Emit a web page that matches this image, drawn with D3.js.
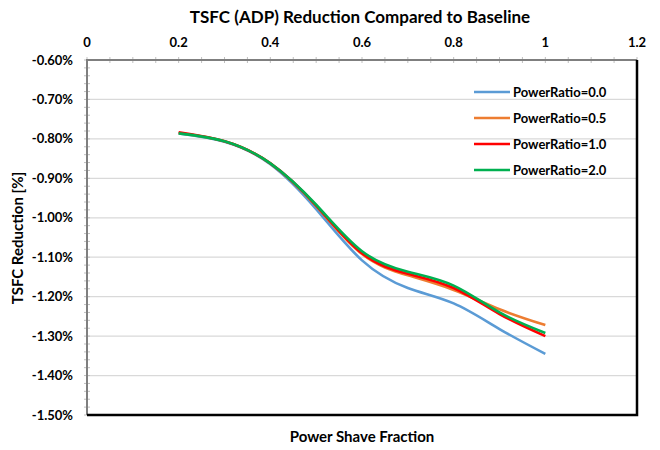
<!DOCTYPE html>
<html>
<head>
<meta charset="utf-8">
<script src="https://cdn.jsdelivr.net/npm/d3@7"></script>
<style>
  body { margin: 0; background: #fff; }
  svg text { font-family: Lato, "Open Sans", sans-serif; font-weight: bold; fill: #000; }
</style>
</head>
<body>
<svg id="chart" width="660" height="450"></svg>
<script>
// power shave fraction (x) and TSFC reduction in % (y)
const shave = [0.2, 0.3, 0.4, 0.5, 0.6, 0.7, 0.8, 0.9, 1.0]
const ratio00 = [-0.786, -0.807, -0.864, -0.978, -1.108, -1.178, -1.217, -1.282, -1.345]
const ratio05 = [-0.785, -0.806, -0.862, -0.970, -1.092, -1.146, -1.183, -1.232, -1.272]
const ratio10 = [-0.783, -0.806, -0.862, -0.969, -1.090, -1.142, -1.178, -1.244, -1.300]
const ratio20 = [-0.786, -0.806, -0.862, -0.967, -1.085, -1.137, -1.172, -1.240, -1.292]

const seriesNames = ["PowerRatio=0.0", "PowerRatio=0.5", "PowerRatio=1.0", "PowerRatio=2.0"]
const seriesColours = ["#5b9bd5", "#ed7d31", "#ff0000", "#00b050"]
const xTicks = [0, 0.2, 0.4, 0.6, 0.8, 1, 1.2]
const yTicks = [-0.6, -0.7, -0.8, -0.9, -1.0, -1.1, -1.2, -1.3, -1.4, -1.5]

const margin = { left: 87, top: 60, right: 637, bottom: 415 }

const x = d3.scaleLinear().domain([0, 1.2]).range([margin.left, margin.right])
const y = d3.scaleLinear().domain([-0.6, -1.5]).range([margin.top, margin.bottom])

const svg = d3.select("#chart")

svg.append("text")
    .attr("x", 360).attr("y", 23)
    .attr("text-anchor", "middle")
    .style("font-size", "17px")
    .text("TSFC (ADP) Reduction Compared to Baseline")

// gridlines
svg.append("g")
    .selectAll("line")
    .data(yTicks.slice(1, -1))
    .join("line")
    .attr("x1", margin.left).attr("x2", margin.right)
    .attr("y1", (d) => y(d)).attr("y2", (d) => y(d))
    .attr("stroke", "#d9d9d9")
    .attr("stroke-width", 1.3)

// minor ticks
const xMinor = d3.range(0, 1.2001, 0.05)
svg.append("g")
    .selectAll("line")
    .data(xMinor)
    .join("line")
    .attr("x1", (d) => x(d)).attr("x2", (d) => x(d))
    .attr("y1", margin.top - 3).attr("y2", margin.top + 3)
    .attr("stroke", "#bfbfbf")
const yMinor = d3.range(-0.6, -1.5001, -0.02)
svg.append("g")
    .selectAll("line")
    .data(yMinor)
    .join("line")
    .attr("x1", margin.left - 3).attr("x2", margin.left + 3)
    .attr("y1", (d) => y(d)).attr("y2", (d) => y(d))
    .attr("stroke", "#bfbfbf")

// tick labels
svg.append("g")
    .selectAll("text")
    .data(xTicks)
    .join("text")
    .attr("x", (d) => x(d)).attr("y", 47)
    .attr("text-anchor", "middle")
    .style("font-size", "13px")
    .text((d) => d)
svg.append("g")
    .selectAll("text")
    .data(yTicks)
    .join("text")
    .attr("x", 73).attr("y", (d) => y(d) + 4.5)
    .attr("text-anchor", "end")
    .style("font-size", "13px")
    .text((d) => d.toFixed(2) + "%")

// plot frame
svg.append("path")
    .attr("d", `M${margin.left},${margin.bottom}V${margin.top}H${margin.right}`)
    .attr("fill", "none").attr("stroke", "#7f7f7f").attr("stroke-width", 2)
svg.append("path")
    .attr("d", `M${margin.left},${margin.bottom}H${margin.right}V${margin.top}`)
    .attr("fill", "none").attr("stroke", "#000").attr("stroke-width", 2.5)

// series
const allSeries = [ratio00, ratio05, ratio10, ratio20].map((vals, i) => ({
    name: seriesNames[i],
    colour: seriesColours[i],
    points: vals.map((v, j) => [shave[j], v]),
}))

const line = d3.line()
    .x((d) => x(d[0]))
    .y((d) => y(d[1]))
    .curve(d3.curveNatural)

svg.append("g")
    .selectAll("path")
    .data(allSeries)
    .join("path")
    .attr("fill", "none")
    .attr("stroke", (d) => d.colour)
    .attr("stroke-width", 2.6)
    .attr("d", (d) => line(d.points))

// legend
const legend = svg.append("g")
    .selectAll("g")
    .data(allSeries)
    .join("g")
    .attr("transform", (d, i) => `translate(474, ${92 + i * 26})`)
legend.append("line")
    .attr("x1", 0).attr("x2", 36)
    .attr("stroke", (d) => d.colour)
    .attr("stroke-width", 2.6)
legend.append("text")
    .attr("x", 39).attr("y", 5)
    .style("font-size", "13px")
    .text((d) => d.name)

// axis titles
svg.append("text")
    .attr("x", 362).attr("y", 442)
    .attr("text-anchor", "middle")
    .style("font-size", "15px")
    .text("Power Shave Fraction")
svg.append("text")
    .attr("transform", "translate(23, 238) rotate(-90)")
    .attr("text-anchor", "middle")
    .style("font-size", "15px")
    .text("TSFC Reduction [%]")
</script>
</body>
</html>
